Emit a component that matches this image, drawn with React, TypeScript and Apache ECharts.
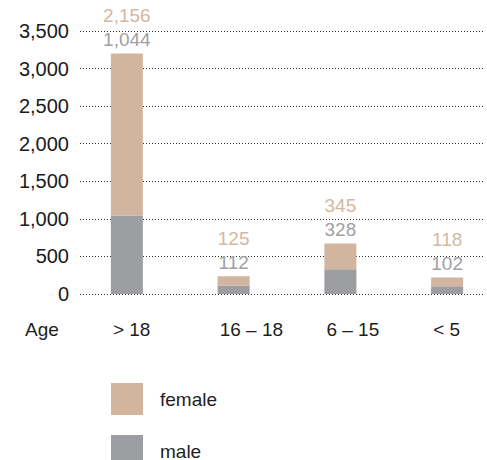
import React, { useEffect, useRef } from "react";
import * as echarts from "echarts";

const categories = ["> 18", "16 – 18", "6 – 15", "< 5"];
const maleValues = [1044, 112, 328, 102];
const femaleValues = [2156, 125, 345, 118];
const yTicks = [0, 500, 1000, 1500, 2000, 2500, 3000, 3500];

const TAN = "#D1B59F";
const GRAY = "#9D9EA2";
const FONT = "'Liberation Sans', Arial, Helvetica, sans-serif";
const CHART_W = 520;

const fmt = (v: number) => v.toLocaleString("en-US");

export default function App() {
  const ref = useRef<HTMLDivElement>(null);
  useEffect(() => {
    if (!ref.current) return;
    const chart = echarts.init(ref.current, undefined, { renderer: "svg" });
    const yMax = yTicks[yTicks.length - 1];
    const yInterval = yTicks[1] - yTicks[0];
    chart.setOption({
      animation: false,
      textStyle: { fontFamily: FONT },
      grid: [
        { left: 73.5, right: CHART_W - 500.5, top: 31, bottom: 166 },
        { left: 80, right: CHART_W - 485, top: 31, bottom: 166 },
      ],
      xAxis: [
        {
          type: "category",
          gridIndex: 0,
          data: categories,
          axisLine: { show: false },
          axisTick: { show: false },
          axisLabel: {
            align: "left",
            margin: 26,
            padding: [0, 0, 0, -14],
            fontSize: 19,
            color: "#1e1e1e",
            fontFamily: FONT,
          },
        },
        { type: "value", gridIndex: 1, show: false, min: 0, max: 1 },
      ],
      yAxis: [
        { type: "value", gridIndex: 0, min: 0, max: yMax, interval: yInterval, show: false },
        {
          type: "value",
          gridIndex: 1,
          min: 0,
          max: yMax,
          interval: yInterval,
          axisLine: { show: false },
          axisTick: { show: false },
          axisLabel: {
            margin: 11,
            fontSize: 20,
            color: "#1a1a1a",
            fontFamily: FONT,
            formatter: (v: number) => fmt(v),
          },
          splitLine: {
            show: true,
            lineStyle: { color: "#333", width: 1, type: [1, 2] },
          },
        },
      ],
      legend: {
        orient: "vertical",
        left: 111,
        top: 383,
        height: 150,
        padding: 0,
        itemWidth: 32,
        itemHeight: 32,
        itemGap: 20,
        icon: "rect",
        data: ["female", "male"],
        textStyle: {
          fontSize: 19,
          color: "#1e1e1e",
          fontFamily: FONT,
          padding: [0, 0, 0, 12],
        },
      },
      graphic: [
        {
          type: "text",
          left: 25,
          top: 320,
          style: { text: "Age", fontSize: 19, fill: "#1e1e1e", fontFamily: FONT },
        },
      ],
      series: [
        {
          name: "male",
          type: "bar",
          stack: "total",
          xAxisIndex: 0,
          yAxisIndex: 0,
          barWidth: 32,
          itemStyle: { color: GRAY },
          data: maleValues,
          z: 3,
        },
        {
          name: "female",
          type: "bar",
          stack: "total",
          xAxisIndex: 0,
          yAxisIndex: 0,
          barWidth: 32,
          itemStyle: { color: TAN },
          data: femaleValues,
          z: 3,
          label: {
            show: true,
            position: "top",
            distance: 2,
            fontFamily: FONT,
            formatter: (p: any) =>
              `{f|${fmt(femaleValues[p.dataIndex])}}\n{m|${fmt(maleValues[p.dataIndex])}}`,
            rich: {
              f: { fontSize: 19, color: "#D4B89F", lineHeight: 24, fontFamily: FONT },
              m: { fontSize: 19, color: "#A0A0A4", lineHeight: 24, fontFamily: FONT },
            },
          },
        },
      ],
    });
    return () => chart.dispose();
  }, []);
  return (
    <div
      style={{
        position: "absolute",
        left: 0,
        top: 0,
        width: 487,
        height: 460,
        overflow: "hidden",
        background: "#fff",
      }}
    >
      <div ref={ref} style={{ width: CHART_W, height: 460 }} />
    </div>
  );
}
